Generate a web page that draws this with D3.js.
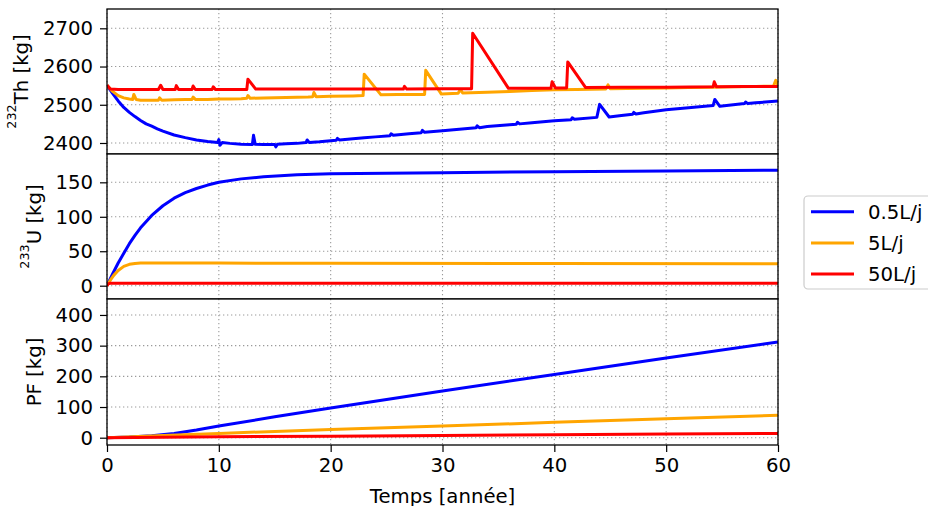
<!DOCTYPE html>
<html><head><meta charset="utf-8">
<script src="https://cdn.jsdelivr.net/npm/d3@7"></script>
<style>
html,body{margin:0;padding:0;background:#fff;}
svg{display:block;font-family:"DejaVu Sans",sans-serif;}
</style></head>
<body><svg id="chart" width="928" height="506"></svg>
<script>
// ---------- DATA ----------
const seriesNames = ["0.5L/j", "5L/j", "50L/j"];
const seriesColors = ["#0000ff", "#ffa500", "#ff0000"];
const xTicks = [0, 10, 20, 30, 40, 50, 60];
const thTicks = [2400, 2500, 2600, 2700];
const uTicks = [0, 50, 100, 150];
const pfTicks = [0, 100, 200, 300, 400];

// 232Th [kg]  (t, value)
const thBlue = [[0,2551],[0.5,2530],[1,2510],[1.5,2493],[2,2480],[2.5,2469],[3,2459],[3.5,2450],[4,2444],[4.5,2437],[5,2431],[6,2421],[7,2414],[8,2408],[9,2404],[9.9,2401],[10,2409],[10.1,2394],[10.3,2401],[11,2399],[12,2397],[13,2396],[13.1,2420],[13.25,2397],[14,2396],[15,2396],[15.1,2390],[15.25,2397],[16,2398],[17,2399],[17.8,2401],[17.9,2408],[18.1,2401],[19,2403],[20,2406],[20.5,2407],[20.6,2412],[20.8,2408],[22,2411],[23,2414],[24,2416],[25.3,2419],[25.4,2424],[25.6,2420],[27,2424],[28.1,2427],[28.2,2433],[28.4,2428],[30,2432],[32,2437],[33,2440],[33.1,2445],[33.3,2440],[34,2443],[36,2448],[36.6,2449],[36.7,2454],[36.9,2450],[38,2453],[40,2458],[41.5,2461],[41.6,2466],[41.8,2462],[43.8,2467],[44.05,2501],[44.9,2468],[46,2472],[47,2475],[47.1,2480],[47.3,2476],[48,2479],[50,2487],[52,2492],[54.2,2498],[54.35,2514],[54.8,2496],[56,2500],[57,2503],[57.1,2507],[57.3,2503],[58,2505],[60,2510]];
const thOrange = [[0,2551],[0.5,2535],[1,2524],[1.5,2518],[2,2515],[2.3,2514],[2.4,2527],[2.6,2514],[3,2512],[4,2512],[4.6,2512],[4.7,2518],[4.9,2512],[6,2513],[7,2514],[7.6,2514],[7.7,2520],[7.9,2514],[9,2514],[10,2515],[11,2515],[12,2516],[12.5,2517],[12.6,2524],[12.8,2517],[14,2518],[16,2519],[18,2520],[18.4,2521],[18.5,2532],[18.7,2521],[20,2522],[22,2523],[22.9,2524],[23.0,2580],[24.5,2526],[26,2527],[28.4,2527],[28.5,2590],[29.9,2528],[31.4,2530],[31.6,2540],[31.8,2531],[34,2533],[36,2535],[38,2537],[40,2539],[42,2540],[44.6,2541],[44.8,2552],[45,2542],[48,2543],[50,2544],[52,2545],[54,2546],[56,2547],[58,2548],[59.6,2549],[59.8,2564],[60,2551]];
const thRed = [[0,2551],[0.3,2541],[1,2540],[2,2540],[4.6,2540],[4.8,2551],[5,2540],[6.1,2540],[6.2,2550],[6.4,2540],[7.6,2540],[7.7,2549],[7.9,2540],[9.4,2540],[9.5,2547],[9.7,2540],[11,2540],[12.5,2540],[12.6,2567],[13.3,2541],[16,2541],[20,2541],[24,2541],[26.5,2541],[26.6,2548],[26.8,2541],[30,2542],[32.6,2542],[32.7,2687],[35.9,2543],[39.7,2543],[39.8,2560],[40.1,2544],[41.1,2544],[41.2,2612],[42.8,2545],[46,2546],[50,2546],[54.2,2547],[54.3,2560],[54.5,2547],[57,2548],[60,2548]];

// 233U [kg]
const uBlue = [[0,0],[0.5,17],[1,33],[1.5,47],[2,61],[2.5,73],[3,84],[4,102],[5,116],[6,127],[7,135],[8,141],[9,146],[10,150],[12,155],[14,158],[17,161],[20,162.5],[30,164],[40,165.5],[50,166.5],[60,167.5]];
const uOrange = [[0,0],[0.3,8],[0.6,15],[1,22],[1.5,28],[2,31],[2.5,32.3],[3,32.8],[5,33],[10,32.8],[20,32.5],[40,32.2],[60,32]];
const uRed = [[0,0],[0.1,2.5],[0.25,3.5],[10,3.5],[60,3.5]];

// PF [kg]
const pfBlue = [[0,0],[2,2],[4,6],[6,14],[8,25],[10,38],[15,68],[20,97],[30,152],[40,206],[50,260],[60,312]];
const pfOrange = [[0,0],[5,7],[10,14],[20,27],[30,38],[40,50],[50,62],[60,73]];
const pfRed = [[0,0],[10,3],[20,5],[30,7],[40,9.5],[50,12],[60,14]];

// ---------- LAYOUT ----------
const svg = d3.select("#chart");
const left = 107, right = 778;
const fs = 19.7;
const x = d3.scaleLinear().domain([0, 60]).range([left, right]);

const panels = [
  {top: 9, bottom: 154, domain: [2371.2, 2750.5], ticks: thTicks, series: [thBlue, thOrange, thRed], label: ["232", "Th [kg]"], lx: 28},
  {top: 154, bottom: 299, domain: [-19.3, 191.1], ticks: uTicks, series: [uBlue, uOrange, uRed], label: ["233", "U [kg]"], lx: 41},
  {top: 299, bottom: 445, domain: [-23.8, 452], ticks: pfTicks, series: [pfBlue, pfOrange, pfRed], label: [null, "PF [kg]"], lx: 41}
];

panels.forEach((p, i) => {
  const y = d3.scaleLinear().domain(p.domain).range([p.bottom, p.top]);
  const g = svg.append("g");
  g.append("rect").attr("x", left).attr("y", p.top).attr("width", right-left).attr("height", p.bottom-p.top).attr("fill", "#fff");
  const clipId = "clip" + i;
  svg.append("clipPath").attr("id", clipId).append("rect")
    .attr("x", left).attr("y", p.top).attr("width", right-left).attr("height", p.bottom-p.top);
  // grid
  const grid = g.append("g").attr("stroke", "#9a9a9a").attr("stroke-width", 1.1).attr("stroke-dasharray", "1.3,2.7");
  grid.selectAll("line.vx").data(xTicks).join("line")
    .attr("x1", d => x(d)).attr("x2", d => x(d)).attr("y1", p.top).attr("y2", p.bottom);
  grid.selectAll("line.hy").data(p.ticks).join("line")
    .attr("x1", left).attr("x2", right).attr("y1", d => y(d)).attr("y2", d => y(d));
  // lines
  const line = d3.line().x(d => x(d[0])).y(d => y(d[1]));
  const lg = g.append("g").attr("clip-path", `url(#${clipId})`);
  p.series.forEach((s, k) => {
    lg.append("path").datum(s).attr("d", line).attr("fill", "none")
      .attr("stroke", seriesColors[k]).attr("stroke-width", 3)
      .attr("stroke-linejoin", "round").attr("stroke-linecap", "butt");
  });
  // y axis
  const ya = g.append("g").attr("transform", `translate(${left},0)`)
    .call(d3.axisLeft(y).tickValues(p.ticks).tickSize(7).tickPadding(7).tickFormat(d3.format("d")));
  ya.select(".domain").remove();
  ya.selectAll(".tick line").attr("stroke", "#000").attr("stroke-width", 1.2);
  ya.selectAll(".tick text").attr("font-size", fs).attr("font-family", "DejaVu Sans").attr("fill", "#000");
  // x axis on last
  if (i === panels.length - 1) {
    const xa = g.append("g").attr("transform", `translate(0,${p.bottom})`)
      .call(d3.axisBottom(x).tickValues(xTicks).tickSize(7).tickPadding(6).tickFormat(d3.format("d")));
    xa.select(".domain").remove();
    xa.selectAll(".tick line").attr("stroke", "#000").attr("stroke-width", 1.2);
    xa.selectAll(".tick text").attr("font-size", fs).attr("font-family", "DejaVu Sans").attr("fill", "#000");
  }
  // frame
  g.append("rect").attr("x", left).attr("y", p.top).attr("width", right-left).attr("height", p.bottom-p.top)
    .attr("fill", "none").attr("stroke", "#000").attr("stroke-width", 1.3);
  // y label
  const cy = (p.top + p.bottom) / 2;
  const t = g.append("text").attr("transform", `translate(${p.lx},${cy}) rotate(-90)`)
    .attr("text-anchor", "middle").attr("font-size", fs).attr("fill", "#000");
  if (p.label[0]) {
    t.append("tspan").attr("font-size", 12.8).attr("dy", -12).text(p.label[0]);
    t.append("tspan").attr("dy", 12).text(p.label[1]);
  } else {
    t.append("tspan").text(p.label[1]);
  }
});

// x label
svg.append("text").attr("x", (left + right) / 2).attr("y", 502.5).attr("text-anchor", "middle")
  .attr("font-size", fs).attr("fill", "#000").text("Temps [année]");

// legend
const leg = svg.append("g");
leg.append("rect").attr("x", 804).attr("y", 196).attr("width", 150).attr("height", 93).attr("rx", 4)
  .attr("fill", "#fff").attr("fill-opacity", 0.8).attr("stroke", "#cccccc").attr("stroke-width", 1.2);
seriesNames.forEach((n, k) => {
  const yy = 211.7 + k * 31.2;
  leg.append("line").attr("x1", 811).attr("x2", 854).attr("y1", yy).attr("y2", yy)
    .attr("stroke", seriesColors[k]).attr("stroke-width", 3);
  leg.append("text").attr("x", 868).attr("y", yy).attr("dy", "0.36em").attr("font-size", fs).attr("fill", "#000").text(n);
});
</script></body></html>
